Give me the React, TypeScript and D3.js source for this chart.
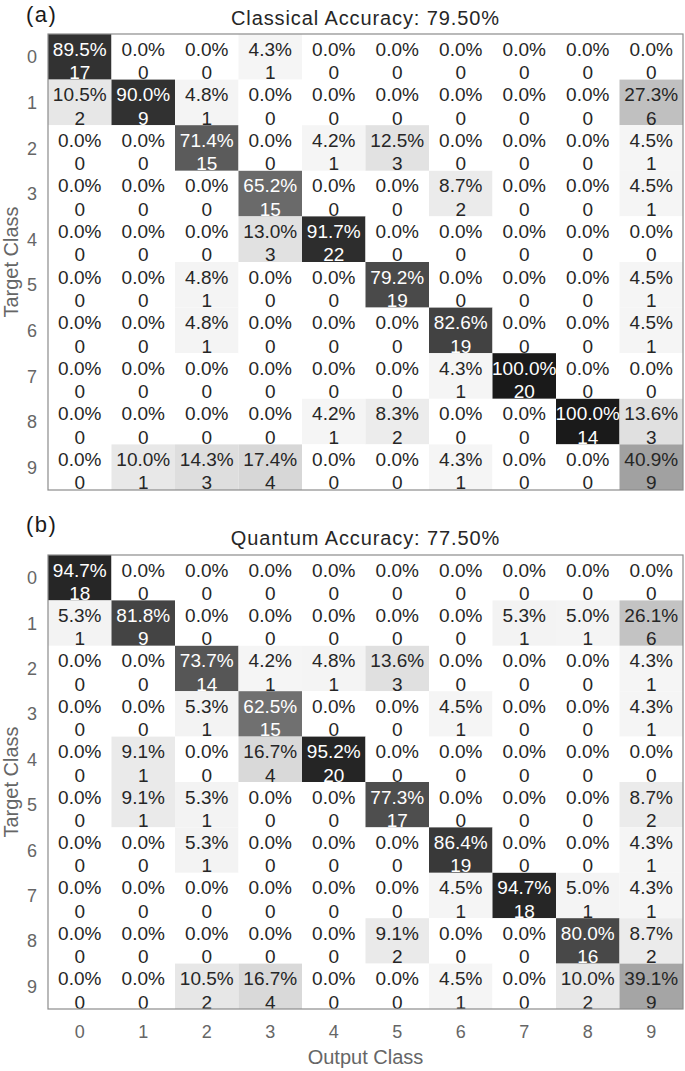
import React from "react";
import { scaleBand, scaleLinear } from "d3";

// class labels (rows = target, cols = output)
const classes = ["0", "1", "2", "3", "4", "5", "6", "7", "8", "9"];

const classicalPercents = [
  [89.5, 0, 0, 4.3, 0, 0, 0, 0, 0, 0],
  [10.5, 90.0, 4.8, 0, 0, 0, 0, 0, 0, 27.3],
  [0, 0, 71.4, 0, 4.2, 12.5, 0, 0, 0, 4.5],
  [0, 0, 0, 65.2, 0, 0, 8.7, 0, 0, 4.5],
  [0, 0, 0, 13.0, 91.7, 0, 0, 0, 0, 0],
  [0, 0, 4.8, 0, 0, 79.2, 0, 0, 0, 4.5],
  [0, 0, 4.8, 0, 0, 0, 82.6, 0, 0, 4.5],
  [0, 0, 0, 0, 0, 0, 4.3, 100.0, 0, 0],
  [0, 0, 0, 0, 4.2, 8.3, 0, 0, 100.0, 13.6],
  [0, 10.0, 14.3, 17.4, 0, 0, 4.3, 0, 0, 40.9],
];
const classicalCounts = [
  [17, 0, 0, 1, 0, 0, 0, 0, 0, 0],
  [2, 9, 1, 0, 0, 0, 0, 0, 0, 6],
  [0, 0, 15, 0, 1, 3, 0, 0, 0, 1],
  [0, 0, 0, 15, 0, 0, 2, 0, 0, 1],
  [0, 0, 0, 3, 22, 0, 0, 0, 0, 0],
  [0, 0, 1, 0, 0, 19, 0, 0, 0, 1],
  [0, 0, 1, 0, 0, 0, 19, 0, 0, 1],
  [0, 0, 0, 0, 0, 0, 1, 20, 0, 0],
  [0, 0, 0, 0, 1, 2, 0, 0, 14, 3],
  [0, 1, 3, 4, 0, 0, 1, 0, 0, 9],
];

const quantumPercents = [
  [94.7, 0, 0, 0, 0, 0, 0, 0, 0, 0],
  [5.3, 81.8, 0, 0, 0, 0, 0, 5.3, 5.0, 26.1],
  [0, 0, 73.7, 4.2, 4.8, 13.6, 0, 0, 0, 4.3],
  [0, 0, 5.3, 62.5, 0, 0, 4.5, 0, 0, 4.3],
  [0, 9.1, 0, 16.7, 95.2, 0, 0, 0, 0, 0],
  [0, 9.1, 5.3, 0, 0, 77.3, 0, 0, 0, 8.7],
  [0, 0, 5.3, 0, 0, 0, 86.4, 0, 0, 4.3],
  [0, 0, 0, 0, 0, 0, 4.5, 94.7, 5.0, 4.3],
  [0, 0, 0, 0, 0, 9.1, 0, 0, 80.0, 8.7],
  [0, 0, 10.5, 16.7, 0, 0, 4.5, 0, 10.0, 39.1],
];
const quantumCounts = [
  [18, 0, 0, 0, 0, 0, 0, 0, 0, 0],
  [1, 9, 0, 0, 0, 0, 0, 1, 1, 6],
  [0, 0, 14, 1, 1, 3, 0, 0, 0, 1],
  [0, 0, 1, 15, 0, 0, 1, 0, 0, 1],
  [0, 1, 0, 4, 20, 0, 0, 0, 0, 0],
  [0, 1, 1, 0, 0, 17, 0, 0, 0, 2],
  [0, 0, 1, 0, 0, 0, 19, 0, 0, 1],
  [0, 0, 0, 0, 0, 0, 1, 18, 1, 1],
  [0, 0, 0, 0, 0, 2, 0, 0, 16, 2],
  [0, 0, 2, 4, 0, 0, 1, 0, 2, 9],
];

const panels = [
  { tag: "(a)", title: "Classical Accuracy: 79.50%", percents: classicalPercents, counts: classicalCounts, top: 34, bottom: 490, tagY: 22, titleY: 25 },
  { tag: "(b)", title: "Quantum Accuracy: 77.50%", percents: quantumPercents, counts: quantumCounts, top: 555, bottom: 1009, tagY: 532, titleY: 545 },
];

const FONT = "'Liberation Sans', Arial, Helvetica, sans-serif";
const W = 685;
const H = 1071;
const left = 48;
const right = 683;

const color = scaleLinear<string>().domain([0, 100]).range(["#ffffff", "#1a1a1a"]);

function Matrix({ panel }: { panel: (typeof panels)[number] }) {
  const x = scaleBand().domain(classes).range([left, right]);
  const y = scaleBand().domain(classes).range([panel.top, panel.bottom]);
  const bw = x.bandwidth();
  const bh = y.bandwidth();
  return (
    <g>
      <text x={26} y={panel.tagY} fontSize={22} letterSpacing={1.5} fill="#1a1a1a">{panel.tag}</text>
      <text x={(left + right) / 2} y={panel.titleY} fontSize={20} letterSpacing={0.9} fill="#262626" textAnchor="middle">{panel.title}</text>
      {classes.map((r, i) =>
        classes.map((c, j) => {
          const p = panel.percents[i][j];
          const txt = p > 50 ? "#ffffff" : "#262626";
          return (
            <g key={r + c}>
              <rect x={x(c)} y={y(r)} width={bw} height={bh} fill={color(p)} />
              <text x={x(c)! + bw / 2} y={y(r)! + 21.5} fontSize={19} fill={txt} textAnchor="middle">{p.toFixed(1) + "%"}</text>
              <text x={x(c)! + bw / 2} y={y(r)! + 45} fontSize={19} fill={txt} textAnchor="middle">{panel.counts[i][j]}</text>
            </g>
          );
        })
      )}
      <rect x={left} y={panel.top} width={right - left} height={panel.bottom - panel.top} fill="none" stroke="#8c8c8c" strokeWidth={1.2} />
      {classes.map((r) => (
        <text key={"yt" + r} x={32} y={y(r)! + bh / 2 + 6.5} fontSize={18} fill="#666666" textAnchor="middle">{r}</text>
      ))}
      <text transform={`translate(18, ${(panel.top + panel.bottom) / 2}) rotate(-90)`} fontSize={20} fill="#666666" textAnchor="middle">Target Class</text>
    </g>
  );
}

export default function App() {
  const x = scaleBand().domain(classes).range([left, right]);
  return (
    <svg width={W} height={H} style={{ position: "absolute", left: 0, top: 0, background: "#fff" }} fontFamily={FONT}>
      <rect width={W} height={H} fill="#fff" />
      {panels.map((p) => (
        <Matrix key={p.tag} panel={p} />
      ))}
      {classes.map((c) => (
        <text key={"xt" + c} x={x(c)! + x.bandwidth() / 2} y={1038} fontSize={18} fill="#666666" textAnchor="middle">{c}</text>
      ))}
      <text x={(left + right) / 2} y={1064} fontSize={20} fill="#666666" textAnchor="middle">Output Class</text>
    </svg>
  );
}
